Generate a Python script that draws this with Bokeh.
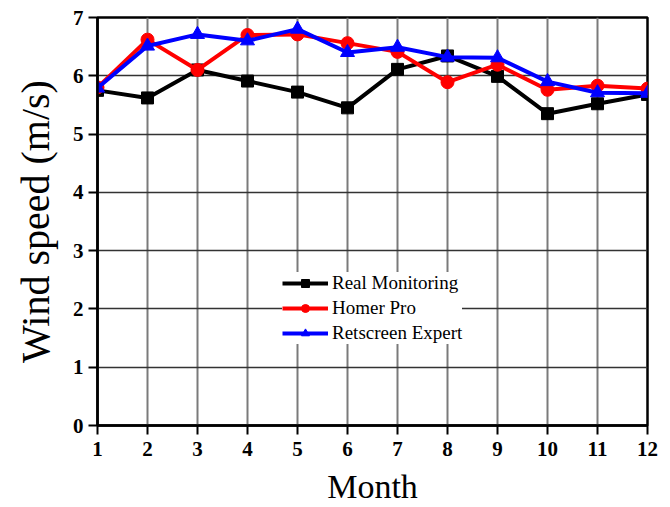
from bokeh.plotting import figure
from bokeh.embed import file_html
from bokeh.resources import INLINE
from bokeh.models import Range1d, FixedTicker, Legend, LegendItem

months = [1, 2, 3, 4, 5, 6, 7, 8, 9, 10, 11, 12]
real_monitoring = [5.75, 5.62, 6.10, 5.91, 5.72, 5.45, 6.11, 6.34, 5.99, 5.35, 5.52, 5.68]
homer_pro = [5.80, 6.62, 6.10, 6.70, 6.71, 6.56, 6.41, 5.89, 6.19, 5.76, 5.83, 5.78]
retscreen_expert = [5.79, 6.51, 6.71, 6.60, 6.80, 6.40, 6.49, 6.32, 6.31, 5.90, 5.71, 5.70]
y_ticks = [0, 1, 2, 3, 4, 5, 6, 7]

FONT = "Liberation Serif"

p = figure(width=670, height=507, output_backend="svg", toolbar_location=None,
           x_range=Range1d(1, 12), y_range=Range1d(0, 7),
           min_border_left=97, min_border_right=23, min_border_top=17, min_border_bottom=82)

p.outline_line_color = "black"
p.outline_line_width = 2.5

p.xgrid.ticker = FixedTicker(ticks=months)
p.ygrid.ticker = FixedTicker(ticks=y_ticks)
p.xgrid.grid_line_color = "#7a7a7a"
p.xgrid.grid_line_width = 2
p.ygrid.grid_line_color = "#333333"
p.ygrid.grid_line_width = 1.5

for ax in (p.xaxis[0], p.yaxis[0]):
    ax.axis_line_width = 2.5
    ax.major_tick_line_width = 2
    ax.major_tick_out = 9
    ax.major_tick_in = 0
    ax.minor_tick_line_color = None
    ax.major_label_text_font = FONT
    ax.major_label_text_font_style = "bold"
    ax.major_label_text_font_size = "21px"
    ax.major_label_text_color = "black"
    ax.axis_label_text_font = FONT
    ax.axis_label_text_font_style = "normal"
    ax.axis_label_text_color = "black"

p.xaxis[0].ticker = FixedTicker(ticks=months)
p.yaxis[0].ticker = FixedTicker(ticks=y_ticks)
p.xaxis[0].axis_label = "Month"
p.yaxis[0].axis_label = "Wind speed (m/s)"
p.xaxis[0].axis_label_text_font_size = "34px"
p.yaxis[0].axis_label_text_font_size = "40px"
p.xaxis[0].axis_label_standoff = 9
p.yaxis[0].axis_label_standoff = 12
p.xaxis[0].major_label_standoff = 7
p.yaxis[0].major_label_standoff = 5

r1l = p.line(months, real_monitoring, line_color="black", line_width=4)
r1m = p.scatter(months, real_monitoring, marker="square", size=12, color="black")
r2l = p.line(months, homer_pro, line_color="red", line_width=4)
r2m = p.scatter(months, homer_pro, marker="circle", size=13, color="red")
r3l = p.line(months, retscreen_expert, line_color="blue", line_width=4)
r3m = p.scatter(months, retscreen_expert, marker="triangle", size=14, color="blue")

legend = Legend(items=[
    LegendItem(label="Real Monitoring", renderers=[r1l, r1m]),
    LegendItem(label="Homer Pro", renderers=[r2l, r2m]),
    LegendItem(label="Retscreen Expert", renderers=[r3l, r3m]),
], location=(185, 81))
legend.border_line_color = None
legend.background_fill_color = "white"
legend.background_fill_alpha = 1
legend.label_text_font = FONT
legend.label_text_font_size = "19px"
legend.label_text_color = "black"
legend.glyph_width = 46
legend.glyph_height = 20
legend.spacing = 3
legend.padding = 6
legend.margin = 0
legend.label_standoff = 4
p.add_layout(legend, "center")

open("out.html", "w").write(file_html(p, INLINE))
